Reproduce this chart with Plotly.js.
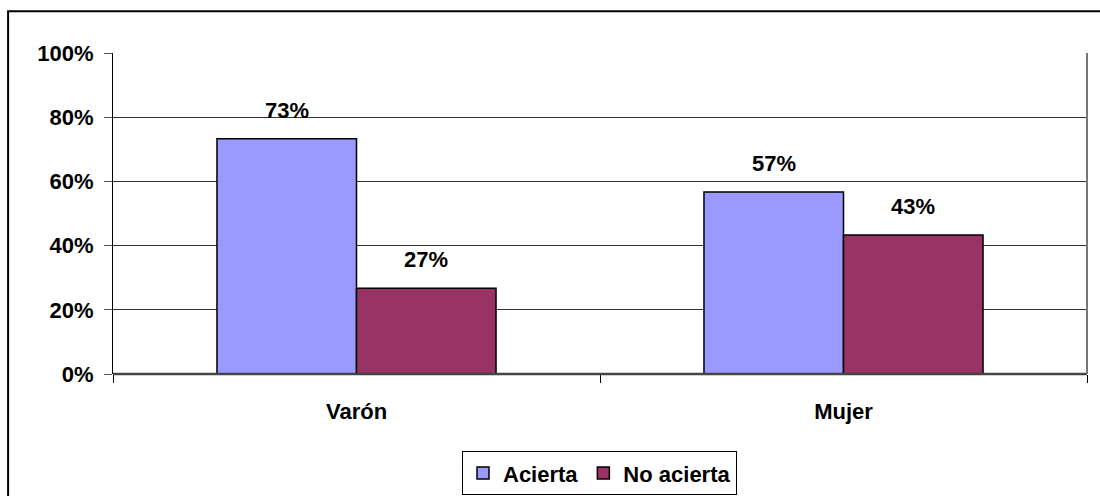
<!DOCTYPE html>
<html>
<head>
<meta charset="utf-8">
<script src="https://cdn.plot.ly/plotly-3.0.1.min.js"></script>
<style>
html,body{margin:0;padding:0;background:#fff;}
#chart{width:1100px;height:496px;}
</style>
</head>
<body>
<div id="chart"></div>
<script>
const categories = ["Varón", "Mujer"];
const seriesNames = ["Acierta", "No acierta"];
const acierta = [73.3, 56.7];
const noAcierta = [26.7, 43.3];
const aciertaLabels = ["73%", "57%"];
const noAciertaLabels = ["27%", "43%"];
const yTickVals = [0, 20, 40, 60, 80, 100];
const yTickText = ["0%", "20%", "40%", "60%", "80%", "100%"];

const FAM = "Liberation Sans, Arial, sans-serif";
const font = {family: FAM, size: 22, color: "#000"};

const traces = [
  {type: "bar", name: "<b>" + seriesNames[0] + "</b>", x: categories, y: acierta,
   marker: {color: "#9999FF", line: {color: "#000", width: 1.5}}, hoverinfo: "none"},
  {type: "bar", name: "<b>" + seriesNames[1] + "</b>", x: categories, y: noAcierta,
   marker: {color: "#993366", line: {color: "#000", width: 1.5}}, hoverinfo: "none"}
];

const annotations = [];
const off = 0.1435;
categories.forEach((c, i) => {
  annotations.push({xref: "x", yref: "y", x: i - off, y: acierta[i], text: "<b>" + aciertaLabels[i] + "</b>",
    showarrow: false, yanchor: "bottom", yshift: 14, font: font});
  annotations.push({xref: "x", yref: "y", x: i + off, y: noAcierta[i], text: "<b>" + noAciertaLabels[i] + "</b>",
    showarrow: false, yanchor: "bottom", yshift: 14, font: font});
});

const layout = {
  width: 1100, height: 496,
  margin: {l: 113, r: 13, t: 53, b: 122},
  paper_bgcolor: "#fff", plot_bgcolor: "#fff",
  font: font,
  barmode: "group",
  bargap: 0.427, bargroupgap: 0,
  showlegend: true,
  legend: {orientation: "h", xref: "container", yref: "container", x: 0.545, xanchor: "center", y: 0.046, yanchor: "middle",
    bordercolor: "#000", borderwidth: 1, font: {family: FAM, size: 22, color: "#000", weight: "bold"},
    itemwidth: 20, tracegroupgap: 0, itemclick: false},
  xaxis: {type: "category", tickson: "boundaries", ticks: "outside", ticklen: 8, tickcolor: "#000",
    showline: false, showgrid: false, zeroline: false,
    tickfont: {family: FAM, size: 22, color: "#000", weight: "bold"}, ticklabelstandoff: 22, fixedrange: true},
  yaxis: {range: [0, 100], tickvals: yTickVals, ticktext: yTickText, ticks: "outside", ticklen: 8, tickcolor: "#555",
    showline: true, linecolor: "#000", linewidth: 1, showgrid: true, gridcolor: "#333", gridwidth: 1,
    zeroline: false,
    tickfont: {family: FAM, size: 22, color: "#000", weight: "bold"}, ticklabelstandoff: 6, fixedrange: true},
  annotations: annotations,
  shapes: [
    {type: "line", xref: "paper", yref: "paper", x0: 0, x1: 1, y0: 0, y1: 0, line: {color: "#444", width: 2.5}},
    {type: "line", xref: "paper", yref: "paper", x0: 1, x1: 1, y0: 0, y1: 1, line: {color: "#777", width: 2}},
    {type: "rect", xref: "paper", yref: "paper", x0: -0.1077, x1: 1.06, y0: 1.13, y1: -0.5, line: {color: "#000", width: 2}, fillcolor: "rgba(0,0,0,0)"}
  ]
};

Plotly.newPlot("chart", traces, layout, {staticPlot: true, displayModeBar: false});
</script>
</body>
</html>
